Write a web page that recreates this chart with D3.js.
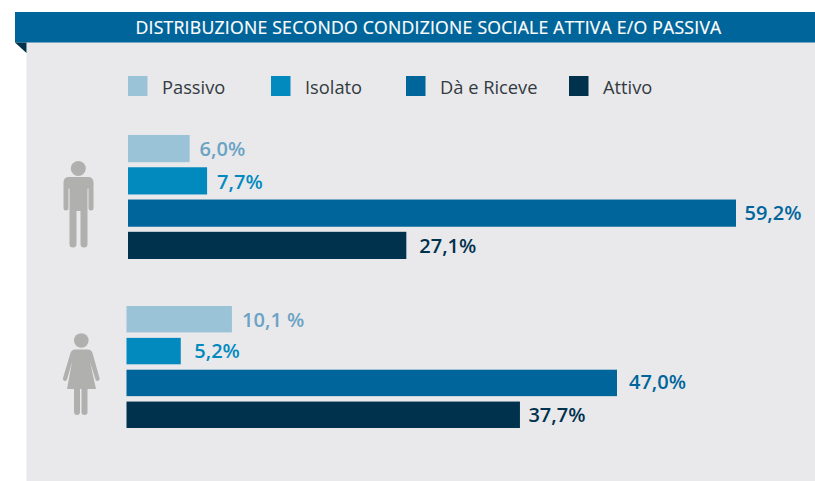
<!DOCTYPE html>
<html><head><meta charset="utf-8">
<script src="https://cdn.jsdelivr.net/npm/d3@7"></script>
<style>html,body{margin:0;padding:0;background:#fff}svg{display:block}text{font-family:"Open Sans",sans-serif}</style>
</head><body><svg id="c" width="815" height="481"></svg>
<script>
const title = "DISTRIBUZIONE SECONDO CONDIZIONE SOCIALE ATTIVA E/O PASSIVA";
const categories = ["Passivo","Isolato","Dà e Riceve","Attivo"];
const colors = ["#9ac3d8","#028abf","#00659a","#00324d"];
const labelColors = ["#6ba3c4","#028abf","#00659a","#00324d"];
const men = [6.0,7.7,59.2,27.1];
const women = [10.1,5.2,47.0,37.7];
const menLabels = ["6,0%","7,7%","59,2%","27,1%"];
const womenLabels = ["10,1 %","5,2%","47,0%","37,7%"];
const legendX = [128,271,406,569];

const svg = d3.select("#c");
svg.append("rect").attr("x",26.5).attr("y",42).attr("width",788.5).attr("height",439).attr("fill","#e9e9ec");
svg.append("rect").attr("x",15).attr("y",12).attr("width",800).attr("height",30.5).attr("fill","#00659a");
svg.append("path").attr("d","M15,42.5L26.5,42.5L26.5,53Z").attr("fill","#00324d");
svg.append("text").attr("x",428.5).attr("y",33.5).attr("text-anchor","middle").attr("fill","#fff")
  .attr("stroke","#fff").attr("stroke-width",0.2)
  .attr("font-size",17.6).attr("letter-spacing",0.25).text(title);

const leg = svg.append("g").selectAll("g").data(categories).join("g")
  .attr("transform",(d,i)=>`translate(${legendX[i]},76)`);
leg.append("rect").attr("width",19.5).attr("height",20).attr("fill",(d,i)=>colors[i]);
leg.append("text").attr("x",34).attr("y",17.5).attr("font-size",18.3).attr("fill","#333a40").text(d=>d);

function panel(vals,labels,x0,xAtMax,maxV,top,bottom,pad,labelGaps,labelDy){
  const x = d3.scaleLinear().domain([0,maxV]).range([x0,xAtMax]);
  const y = d3.scaleBand().domain(categories).range([top,bottom]).paddingInner(pad);
  const g = svg.append("g");
  g.selectAll("rect").data(vals).join("rect")
    .attr("x",x0).attr("y",(d,i)=>y(categories[i]))
    .attr("width",d=>x(d)-x0).attr("height",y.bandwidth())
    .attr("fill",(d,i)=>colors[i]);
  g.selectAll("text").data(vals).join("text")
    .attr("x",(d,i)=>x(d)+labelGaps[i]).attr("y",(d,i)=>y(categories[i])+y.bandwidth()/2+7+labelDy[i])
    .attr("font-size",20).attr("font-weight",600)
    .attr("fill",(d,i)=>labelColors[i]).text((d,i)=>labels[i]);
}
panel(men,menLabels,128,736,59.2,135,259,0.157,[10,10,8.5,13],[0,1,0,0.7]);
panel(women,womenLabels,126.5,617,47.0,306,428,0.17,[10.2,13.5,12,8.5],[1,0,-1,0.5]);

const grey = "#b0b0ae";
// man icon
const man = svg.append("g").attr("fill",grey);
man.append("circle").attr("cx",78.3).attr("cy",168.5).attr("r",7.5);
man.append("path").attr("d","M68.5,177H88a5,5 0 0 1 5.5,5V208a2.5,2.5 0 0 1 -5,0V188.5H87.5V244a3.5,3.5 0 0 1 -7,0V211H76.5V244a3.5,3.5 0 0 1 -7,0V188.5H68.5V208a2.5,2.5 0 0 1 -5,0V182a5,5 0 0 1 5,-5Z");
// woman icon
const wom = svg.append("g").attr("fill",grey);
wom.append("circle").attr("cx",81.3).attr("cy",340.5).attr("r",7.3);
wom.append("path").attr("d","M75,349.5H88a5,5 0 0 1 4.5,3.5L99.5,378a2,2 0 0 1 -4,1.5L90,362L96,389H87.5V412a3,3 0 0 1 -6,0V389H80V412a3,3 0 0 1 -6,0V389H67L72,362L67,379.5a2,2 0 0 1 -4,-1.5L70.5,353a5,5 0 0 1 4.5,-3.5Z");
</script></body></html>
